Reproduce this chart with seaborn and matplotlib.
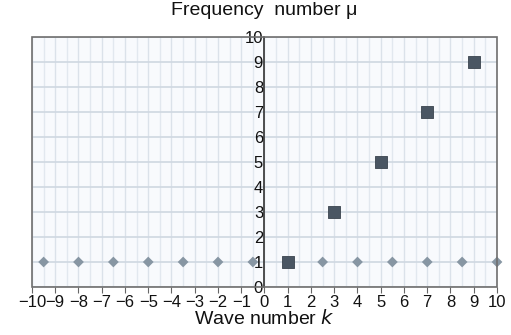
import numpy as np
import pandas as pd
import seaborn as sns
import matplotlib.pyplot as plt
from matplotlib.patches import Rectangle
from matplotlib.ticker import MultipleLocator

# data
diamond_k = [-9.5, -8, -6.5, -5, -3.5, -2, -0.5, 1, 2.5, 4, 5.5, 7, 8.5, 10]
diamond_mu = [1] * len(diamond_k)
square_k = [1, 3, 5, 7, 9]
square_mu = [1, 3, 5, 7, 9]
x_ticks = list(range(-10, 11))
y_ticks = list(range(0, 11))

sns.set_theme(style='white')
plt.rcParams['font.family'] = ['Liberation Sans', 'DejaVu Sans']
plt.rcParams['axes.unicode_minus'] = True

fig = plt.figure(figsize=(5.11, 3.35), dpi=100)
ax = fig.add_axes([0.0626, 0.1433, 0.9100, 0.7463])
ax.set_facecolor('#f8fafd')

df_d = pd.DataFrame({'k': diamond_k, 'mu': diamond_mu})
df_s = pd.DataFrame({'k': square_k, 'mu': square_mu})
sns.scatterplot(data=df_d, x='k', y='mu', marker='D', s=30, color='#8796a3',
                edgecolor='none', ax=ax, zorder=4, clip_on=False)
sns.scatterplot(data=df_s, x='k', y='mu', marker='s', s=68, color='#4a5663',
                edgecolor='#3a434d', linewidth=0.6, ax=ax, zorder=5, clip_on=False)

ax.set_xlim(-10, 10)
ax.set_ylim(0, 10)
ax.set_xticks(x_ticks)
ax.set_yticks(y_ticks)
ax.xaxis.set_minor_locator(MultipleLocator(0.5))

# grid
ax.grid(which='minor', axis='x', color='#e2e8ef', linewidth=1.0, zorder=0)
ax.grid(which='major', axis='x', color='#dbe2ea', linewidth=1.0, zorder=0)
ax.grid(which='major', axis='y', color='#cfd8e1', linewidth=1.2, zorder=0)
ax.set_axisbelow(True)

# y axis through k = 0, outer frame as a box
for s in ['top', 'right', 'bottom']:
    ax.spines[s].set_visible(False)
ax.spines['left'].set_position(('data', 0))
ax.spines['left'].set_color('#333333')
ax.spines['left'].set_linewidth(1.2)
ax.add_patch(Rectangle((0, 0), 1, 1, transform=ax.transAxes, fill=False,
                       edgecolor='#6e6e6e', linewidth=1.2, zorder=6, clip_on=False))

ax.tick_params(axis='y', which='major', direction='inout', length=6, width=0.8,
               color='#444444', labelsize=12, pad=-2, labelcolor='#111111')
ax.tick_params(axis='x', which='major', direction='out', length=4, width=0.8,
               color='#666666', labelsize=12, pad=2, labelcolor='#111111', bottom=True)
ax.tick_params(axis='x', which='minor', length=0)

ax.set_xlabel('Wave number $\\mathit{k}$', fontsize=14, labelpad=-1, color='#111111')
ax.set_ylabel('')
ax.text(0, 1.07, 'Frequency  number \u03bc', transform=ax.get_xaxis_transform(),
        ha='center', va='bottom', fontsize=14, color='#111111')

plt.savefig('out.png', dpi=100)
